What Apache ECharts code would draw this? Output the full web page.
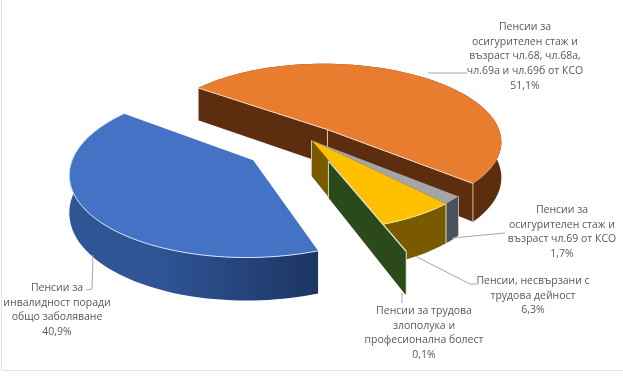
<!DOCTYPE html>
<html>
<head>
<meta charset="utf-8">
<style>
  html, body { margin: 0; padding: 0; background: #fff; }
  #chart { width: 623px; height: 378px; }
</style>
<script src="https://cdn.jsdelivr.net/npm/echarts@6/dist/echarts.min.js"></script>
</head>
<body>
<div id="chart"></div>
<script>
// slices in clockwise order, starting at the back left edge of the orange one
var names = [
  'Пенсии за\nосигурителен стаж и\nвъзраст чл.68, чл.68а,\nчл.69а и чл.69б от КСО',
  'Пенсии за\nосигурителен стаж и\nвъзраст чл.69 от КСО',
  'Пенсии, несвързани с\nтрудова дейност',
  'Пенсии за трудова\nзлополука и\nпрофесионална болест',
  'Пенсии за\nинвалидност поради\nобщо заболяване'
];
var values = [51.1, 1.7, 6.3, 0.1, 40.9];

var topColors = ['#e97d2f', '#a5a5a5', '#ffc000', '#4f7a2c', '#4472c4'];
var sideColors = ['#5c2d0e', '#4a525e', '#7a5a00', '#2a4a1c', '#2f5597'];
// how far each slice is pulled out, in pie radii
var offsets = [[0.195, 0.225], [0.1, 0.085], [0.1, 0.085], [0.19, -0.17], [-0.225, -0.162]];
var labelPos = [[525, 20], [562, 203], [533, 274], [424, 304], [57, 281]];
var leaders = [
  [[428, 73], [467, 73]],
  [[452, 238], [505, 233]],
  [[415, 256], [470, 284], [477, 284]],
  [[402, 293], [402, 303]],
  [[93, 255], [92, 289], [86, 290]]
];

var cx = 294, cy = 147, radius = 177, tilt = 0.45, persp = 0.14, depth = 36;
var startDeg = 143;

// pie plane -> screen
function project(x, y, drop) {
  var w = 1 + persp * y;
  return [cx + radius * x / w, cy - radius * tilt * y / w + (drop ? depth / w : 0)];
}

function arcPoints(o, a0, a1, drop) {
  var pts = [], n = Math.max(2, Math.ceil(Math.abs(a1 - a0) / 2));
  for (var i = 0; i <= n; i++) {
    var a = (a0 + (a1 - a0) * i / n) * Math.PI / 180;
    pts.push(project(o[0] + Math.cos(a), o[1] + Math.sin(a), drop));
  }
  return pts;
}

function edgeLine(points, color, width) {
  return { type: 'polyline', shape: { points: points }, style: { fill: null, stroke: color, lineWidth: width } };
}

function wallAlong(o, a, color) {
  var r = a * Math.PI / 180;
  var px = o[0] + Math.cos(r), py = o[1] + Math.sin(r);
  return {
    type: 'polygon',
    shape: { points: [project(o[0], o[1]), project(px, py), project(px, py, true), project(o[0], o[1], true)] },
    style: { fill: color }
  };
}

function renderSlice(params, api) {
  var i = params.dataIndex;
  var before = 0;
  for (var k = 0; k < i; k++) before += values[k];
  var a0 = startDeg - before * 3.6;
  var a1 = a0 - api.value(0) * 3.6;
  var o = offsets[i];
  var apex = project(o[0], o[1]);
  var apexLow = project(o[0], o[1], true);
  var cream = 'rgba(240,226,200,0.8)';
  var children = [];

  // cut walls that face the viewer
  if (i === 0) {
    children.push(wallAlong(o, a0, sideColors[i]));
    children.push(wallAlong(o, a1, sideColors[i]));
  }
  if (i === 2 || i === 3) children.push(wallAlong(o, a1, sideColors[i]));

  // outer rim
  var top = arcPoints(o, a0, a1);
  var low = arcPoints(o, a0, a1, true);
  var rimFill = sideColors[i];
  if (i === 4) {
    rimFill = new echarts.graphic.LinearGradient(0, 0, 1, 0, [
      { offset: 0, color: '#2f5597' },
      { offset: 0.35, color: '#2f5597' },
      { offset: 1, color: '#1c3563' }
    ]);
  }
  children.push({
    type: 'polygon',
    shape: { points: top.concat(low.slice().reverse()) },
    style: { fill: rimFill }
  });

  // top face
  children.push({
    type: 'polygon',
    shape: { points: [apex].concat(top) },
    style: { fill: topColors[i] }
  });

  // the pale highlights along the edges
  var first = top[0], last = top[top.length - 1];
  var lastLow = low[low.length - 1];
  if (i === 0) {
    children.push(edgeLine([first, apex, last], '#f5dcc4', 1));
    children.push(edgeLine([apex, apexLow], cream, 1));
    children.push(edgeLine([last, lastLow], cream, 1));
    children.push(edgeLine([first, low[0]], cream, 1));
  }
  if (i === 1) children.push(edgeLine([first, low[0]], cream, 0.8));
  if (i === 2) {
    children.push(edgeLine(top, '#f4e3a6', 1));
    children.push(edgeLine([first, low[0]], '#e4e2b0', 1));
    children.push(edgeLine([apex, apexLow], '#cfc89a', 1));
  }
  if (i === 3) {
    children.push(edgeLine([apex, first], '#e6eed6', 1.2));
    children.push(edgeLine([apex, apexLow], '#cfd8b4', 1));
    children.push(edgeLine([first, low[0]], '#e6eed6', 1));
  }
  if (i === 4) children.push(edgeLine(top, '#d5e1f5', 1));

  // leader line + label
  children.push({
    type: 'polyline',
    z2: 20,
    shape: { points: leaders[i] },
    style: { fill: null, stroke: '#a6a6a6', lineWidth: 1 }
  });
  children.push({
    type: 'text',
    z2: 30,
    x: labelPos[i][0],
    y: labelPos[i][1],
    style: {
      text: names[i] + '\n' + String(api.value(0)).replace('.', ',') + '%',
      font: '10.5px "Open Sans"',
      fill: '#595959',
      align: 'center',
      verticalAlign: 'top',
      lineHeight: 14.6
    }
  });
  return { type: 'group', children: children };
}

var chart = echarts.init(document.getElementById('chart'), null, { renderer: 'canvas' });
chart.setOption({
  animation: false,
  backgroundColor: '#ffffff',
  graphic: [{
    type: 'polyline',
    silent: true,
    shape: { points: [[1.5, 0], [1.5, 370.5], [623, 370.5]] },
    style: { fill: null, stroke: '#e2e2e2', lineWidth: 1 }
  }],
  series: [{
    type: 'custom',
    coordinateSystem: 'none',
    silent: true,
    renderItem: renderSlice,
    data: values.map(function (v, i) { return { name: names[i], value: [v] }; })
  }]
});
</script>
</body>
</html>
